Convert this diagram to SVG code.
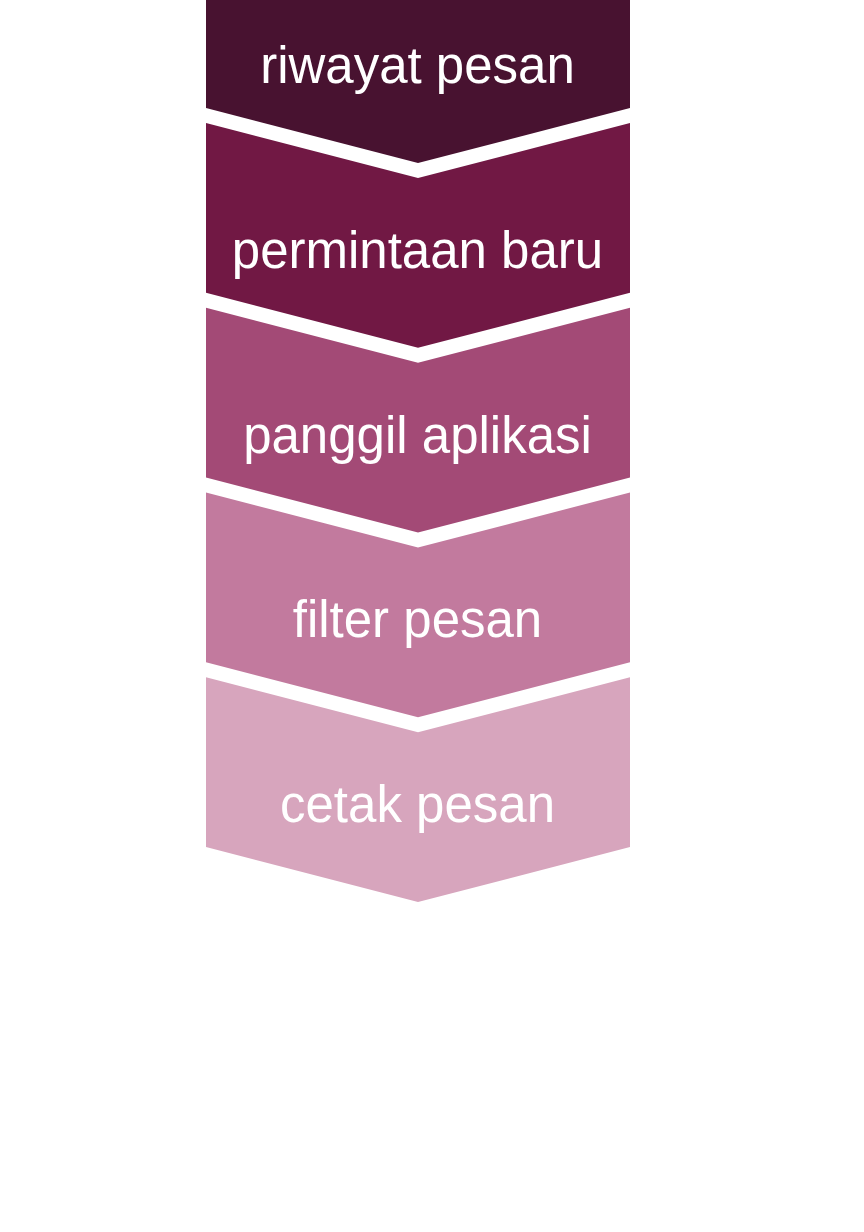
<svg xmlns="http://www.w3.org/2000/svg" width="864" height="1232" viewBox="0 0 864 1232">
<style>
.lbl{font-family:"Liberation Sans",Arial,sans-serif;font-size:51px;fill:#ffffff;text-anchor:middle}
</style>
<rect width="864" height="1232" fill="#ffffff"/>
<g id="step1"><polygon points="206,0 630,0 630,108 418,163 206,108" fill="#481230"/><text class="lbl" x="417.5" y="83">riwayat pesan</text></g>
<g id="step2"><polygon points="206,123 418,178 630,123 630,292.75 418,347.75 206,292.75" fill="#711844"/><text class="lbl" x="417.5" y="268">permintaan baru</text></g>
<g id="step3"><polygon points="206,307.75 418,362.75 630,307.75 630,477.5 418,532.5 206,477.5" fill="#a34a76"/><text class="lbl" x="417.5" y="453">panggil aplikasi</text></g>
<g id="step4"><polygon points="206,492.5 418,547.5 630,492.5 630,662.25 418,717.25 206,662.25" fill="#c27a9e"/><text class="lbl" x="417.5" y="637">filter pesan</text></g>
<g id="step5"><polygon points="206,677.25 418,732.25 630,677.25 630,847 418,902 206,847" fill="#d7a5bd"/><text class="lbl" x="417.5" y="822">cetak pesan</text></g>
<g id="connectors"></g>
</svg>
